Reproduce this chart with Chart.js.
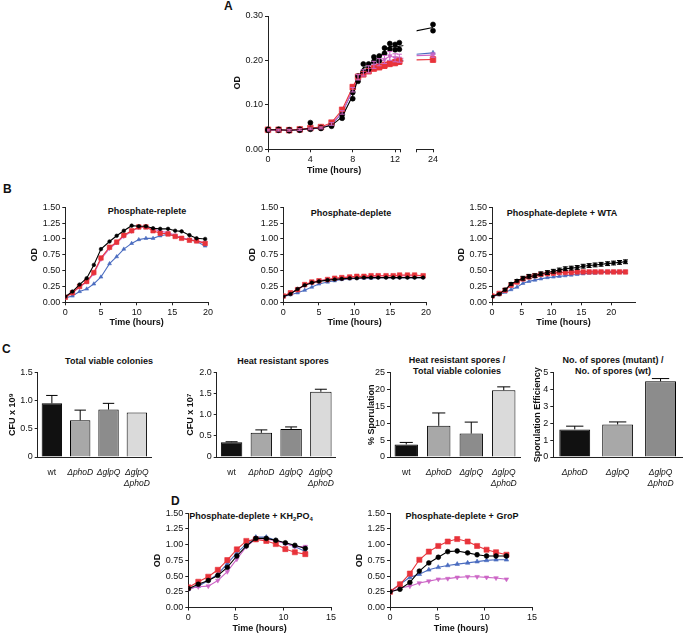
<!DOCTYPE html>
<html><head><meta charset="utf-8">
<script src="https://cdn.jsdelivr.net/npm/chart.js@4.4.0/dist/chart.umd.min.js"></script>
<style>
body{margin:0;background:#fff;width:683px;height:634px;position:relative;overflow:hidden;font-family:"Liberation Sans",Arial,sans-serif;color:#111}
canvas{position:absolute}
.t{position:absolute;font-weight:bold;font-size:9px;white-space:nowrap;transform:translate(-50%,-50%);line-height:11px;text-align:center}
.t sub{font-size:6px;vertical-align:-2px;line-height:0}
.L{position:absolute;font-weight:bold;font-size:12px;line-height:12px}
</style></head><body>
<div class="L" style="left:224px;top:0px">A</div>
<div class="L" style="left:3px;top:183px">B</div>
<div class="L" style="left:2px;top:343px">C</div>
<div class="L" style="left:171px;top:495px">D</div>
<div class="t" style="left:147px;top:211px">Phosphate-replete</div>
<div class="t" style="left:351px;top:213px">Phosphate-deplete</div>
<div class="t" style="left:562px;top:213px">Phosphate-deplete + WTA</div>
<div class="t" style="left:109px;top:361px">Total viable colonies</div>
<div class="t" style="left:283px;top:361px">Heat resistant spores</div>
<div class="t" style="left:457px;top:366px">Heat resistant spores /<br>Total viable colonies</div>
<div class="t" style="left:613px;top:366px">No. of spores (mutant) /<br>No. of spores (wt)</div>
<div class="t" style="left:251px;top:516px">Phosphate-deplete + KH<sub>2</sub>PO<sub>4</sub></div>
<div class="t" style="left:462px;top:516px">Phosphate-deplete + GroP</div>
<script>
// ---------------- DATA ----------------
// Panel A
const timeA = [0,1,2,3,4,5,6,7,8,8.5,9,9.5,10,10.5,11,11.5,12,12.4,24];
const wtA = [0.044,0.044,0.043,0.044,0.047,0.048,0.054,0.073,0.121,0.159,0.184,0.186,0.203,0.204,0.222,0.232,0.230,0.232,0.274];
const wtRepHiA = [0.045,0.045,0.044,0.045,0.060,0.049,0.056,0.078,0.128,0.165,0.192,0.192,0.208,0.210,0.228,0.238,0.236,0.240,0.281];
const wtRepLoA = [0.043,0.043,0.042,0.043,0.045,0.047,0.052,0.070,0.114,0.153,0.176,0.180,0.198,0.199,0.216,0.226,0.224,0.225,0.267];
const phoDA = [0.044,0.044,0.043,0.045,0.048,0.050,0.060,0.089,0.140,0.163,0.169,0.176,0.182,0.185,0.189,0.193,0.195,0.198,0.202];
const phoDErrA = [0.002,0.002,0.002,0.002,0.002,0.002,0.003,0.004,0.005,0.006,0.006,0.006,0.006,0.006,0.007,0.007,0.007,0.007,0.006];
const glpQA = [0.043,0.043,0.043,0.044,0.046,0.048,0.056,0.082,0.132,0.160,0.168,0.176,0.183,0.188,0.192,0.196,0.198,0.200,0.217];
const dblA = [0.043,0.043,0.043,0.044,0.046,0.048,0.057,0.083,0.134,0.162,0.172,0.180,0.190,0.196,0.202,0.210,0.206,0.205,0.212];
const dblErrA = [0.002,0.002,0.002,0.002,0.002,0.002,0.003,0.004,0.005,0.006,0.007,0.008,0.008,0.008,0.009,0.010,0.009,0.009,0.005];
const xTicksA = [0,4,8,12,12.5];
const xTicksA24 = [22,24];
const yTicksA = [0,0.1,0.2,0.3];

// Panel B
const timeB = [0,1,2,3,4,5,6.2,7.2,8.2,9.3,10.3,11.3,12.3,13.3,14.4,15.4,16.3,17.4,18.4,19.6];
const wtB1 = [0.09,0.17,0.28,0.38,0.59,0.84,0.96,1.05,1.13,1.21,1.20,1.20,1.17,1.16,1.16,1.13,1.12,1.06,1.01,1.00];
const phoDB1 = [0.08,0.15,0.25,0.33,0.47,0.70,0.87,0.95,1.06,1.13,1.19,1.19,1.13,1.09,1.08,1.04,1.01,0.98,0.97,0.93];
const dblB1 = [0.08,0.15,0.24,0.32,0.45,0.68,0.85,0.94,1.04,1.12,1.18,1.19,1.16,1.12,1.10,1.06,1.02,0.99,0.97,0.94];
const glpQB1 = [0.07,0.10,0.17,0.21,0.29,0.40,0.61,0.72,0.84,0.93,0.99,1.01,1.01,1.05,1.07,1.05,1.01,0.99,0.96,0.89];
const wtB2 = [0.09,0.13,0.21,0.27,0.31,0.33,0.35,0.36,0.37,0.38,0.38,0.39,0.39,0.39,0.39,0.39,0.39,0.39,0.39,0.39];
const phoDB2 = [0.10,0.15,0.20,0.28,0.32,0.34,0.36,0.38,0.39,0.40,0.41,0.41,0.42,0.42,0.42,0.42,0.43,0.43,0.43,0.42];
const dblB2 = [0.10,0.14,0.20,0.27,0.31,0.34,0.36,0.37,0.39,0.40,0.40,0.41,0.41,0.42,0.42,0.42,0.42,0.42,0.42,0.42];
const glpQB2 = [0.09,0.12,0.15,0.19,0.24,0.29,0.32,0.34,0.36,0.37,0.38,0.38,0.38,0.39,0.39,0.39,0.39,0.39,0.39,0.39];
const timeB3 = [0,1.2,2.2,3.2,4.2,5.2,6.2,7.2,8.2,9.3,10.3,11.3,12.3,13.3,14.3,15.3,16.3,17.3,18.3,19.4,20.4,21.4,22.4];
const wtB3 = [0.09,0.13,0.20,0.29,0.34,0.38,0.41,0.42,0.45,0.47,0.49,0.51,0.53,0.54,0.55,0.57,0.58,0.59,0.60,0.61,0.62,0.63,0.64];
const wtErrB3 = [0.01,0.01,0.02,0.02,0.02,0.03,0.03,0.03,0.03,0.03,0.03,0.03,0.03,0.03,0.03,0.03,0.03,0.03,0.03,0.03,0.03,0.03,0.03];
const phoDB3 = [0.10,0.14,0.19,0.27,0.32,0.37,0.40,0.42,0.44,0.45,0.46,0.47,0.47,0.47,0.48,0.48,0.48,0.48,0.48,0.48,0.48,0.48,0.48];
const dblB3 = [0.10,0.14,0.19,0.27,0.32,0.37,0.40,0.42,0.44,0.45,0.46,0.47,0.47,0.48,0.48,0.48,0.49,0.49,0.49,0.49,0.49,0.49,0.49];
const glpQB3 = [0.09,0.12,0.16,0.20,0.24,0.30,0.33,0.35,0.37,0.39,0.40,0.41,0.42,0.43,0.44,0.45,0.46,0.46,0.47,0.47,0.47,0.47,0.47];
const xTicksB = [0,5,10,15,20];
const yTicksOD = [0,0.25,0.5,0.75,1,1.25,1.5];

// Panel C
const strains4 = ['wt','ΔphoD','ΔglpQ',['ΔglpQ','ΔphoD']];
const strains3 = ['ΔphoD','ΔglpQ',['ΔglpQ','ΔphoD']];
const viable = [0.95,0.65,0.84,0.79];
const viableErr = [0.14,0.18,0.11,0];
const spores = [0.35,0.57,0.66,1.54];
const sporesErr = [0.01,0.07,0.05,0.06];
const sporulation = [3.7,9.2,6.9,19.7];
const sporulationErr = [0.6,3.8,3.4,1.0];
const efficiency = [1.63,1.92,4.47];
const efficiencyErr = [0.19,0.15,0.16];
const yTicksC1 = [0,0.5,1,1.5];
const yTicksC2 = [0,0.5,1,1.5,2];
const yTicksC3 = [0,5,10,15,20,25];
const yTicksC4 = [0,1,2,3,4,5];

// Panel D
const timeD = [0,1.05,2.1,3.1,4.1,5.1,6.1,7.1,8.2,9.2,10.2,11.2,12.3];
const wtD1 = [0.30,0.37,0.43,0.51,0.64,0.82,0.98,1.10,1.10,1.07,1.03,0.99,0.94];
const phoDD1 = [0.32,0.41,0.49,0.60,0.755,0.925,1.06,1.085,1.06,1.01,0.93,0.88,0.85];
const glpQD1 = [0.29,0.34,0.43,0.53,0.70,0.87,1.01,1.12,1.12,1.07,1.02,0.97,0.89];
const dblD1 = [0.30,0.33,0.34,0.43,0.57,0.77,0.97,1.09,1.09,1.06,1.02,0.97,0.97];
const wtD2 = [0.25,0.29,0.40,0.58,0.71,0.80,0.89,0.90,0.87,0.84,0.82,0.82,0.82];
const phoDD2 = [0.25,0.37,0.54,0.76,0.89,0.98,1.05,1.09,1.05,0.98,0.92,0.88,0.84];
const glpQD2 = [0.25,0.37,0.48,0.53,0.60,0.64,0.67,0.69,0.71,0.73,0.75,0.76,0.76];
const dblD2 = [0.24,0.31,0.34,0.39,0.42,0.45,0.46,0.48,0.49,0.49,0.48,0.47,0.45];
const xTicksD = [0,5,10,15];

// ---------------- STYLE ----------------
const FONT = '"Liberation Sans", Arial, sans-serif';
Chart.defaults.font.family = FONT;
Chart.defaults.font.size = 9;
Chart.defaults.color = '#111';
Chart.defaults.animation = false;
Chart.defaults.plugins.legend.display = false;
Chart.defaults.plugins.tooltip.enabled = false;
const AX = '#222';
const S_WT = {color:'#000000', shape:'circle', r:2.2};
const S_PHOD = {color:'#e8333a', shape:'rect', r:3.6};
const S_GLPQ = {color:'#4a6cc0', shape:'triangle', r:2.6};
const S_DBL = {color:'#cc66c6', shape:'triangle', r:2.6, rot:180};

const errorBarPlugin = {
  id: 'errorBarPlugin',
  afterDatasetsDraw(chart) {
    const ctx = chart.ctx, ca = chart.chartArea;
    ctx.save();
    ctx.beginPath(); ctx.rect(ca.left - 1, 0, ca.right - ca.left + 4, chart.height); ctx.clip();
    chart.data.datasets.forEach((ds, i) => {
      if (!ds.errors) return;
      const meta = chart.getDatasetMeta(i);
      const ys = chart.scales[meta.yAxisID];
      const isBar = meta.type === 'bar';
      ctx.strokeStyle = isBar ? '#000' : ds.borderColor;
      ctx.lineWidth = 1;
      meta.data.forEach((el, j) => {
        const e = ds.errors[j];
        if (!e) return;
        const raw = ds.data[j];
        const v = typeof raw === 'object' ? raw.y : raw;
        const x = el.x;
        const top = ys.getPixelForValue(v + e);
        const bot = isBar ? el.y : ys.getPixelForValue(v - e);
        const cap = isBar ? el.width * 0.28 : 2.5;
        ctx.beginPath();
        ctx.moveTo(x, bot); ctx.lineTo(x, top);
        ctx.moveTo(x - cap, top); ctx.lineTo(x + cap, top);
        if (!isBar) { ctx.moveTo(x - cap, bot); ctx.lineTo(x + cap, bot); }
        ctx.stroke();
      });
    });
    ctx.restore();
  }
};
Chart.register(errorBarPlugin);

function place(box, config) {
  const c = document.createElement('canvas');
  const left = Math.round(box.L - box.yw);
  const top = Math.round(box.T - box.pt);
  const w = Math.round(box.R + box.pr - left);
  const h = Math.round(box.B + box.xh - top);
  c.width = w; c.height = h;
  c.style.left = left + 'px'; c.style.top = top + 'px';
  c.style.width = w + 'px'; c.style.height = h + 'px';
  document.body.appendChild(c);
  config.options = config.options || {};
  config.options.responsive = false;
  config.options.maintainAspectRatio = false;
  config.options.layout = {padding: {left: box.L - box.yw - left, top: box.T - top, right: box.pr, bottom: 0}};
  const sc = config.options.scales;
  sc.x.afterFit = s => { s.height = box.xh; };
  if (sc.y.display !== false) sc.y.afterFit = s => { s.width = box.yw; };
  return new Chart(c, config);
}

function ds(label, xs, ys, st, errs, extra) {
  return Object.assign({
    label, data: xs.map((x, i) => ({x, y: ys[i]})),
    borderColor: st.color, backgroundColor: st.color,
    pointStyle: st.shape, pointRadius: st.r, pointRotation: st.rot || 0,
    pointBorderWidth: 0.6, borderWidth: 1.1, tension: 0, errors: errs
  }, extra || {});
}

function axisX(ticks, title, min, max, showLabel) {
  return {
    type: 'linear', min, max,
    afterBuildTicks: s => { s.ticks = ticks.map(v => ({value: v})); },
    grid: {display: true, drawOnChartArea: false, drawTicks: true, tickLength: 3, color: AX, tickColor: AX, lineWidth: 1},
    border: {display: true, color: AX, width: 1},
    ticks: {padding: 2, maxRotation: 0, autoSkip: false, color: '#111', font: {size: 9},
      callback: v => (showLabel ? showLabel(v) : String(v))},
    title: {display: !!title, text: title, font: {size: 9, weight: 'bold'}, padding: 0, color: '#111'}
  };
}
function axisY(ticks, title, max, fmt) {
  return {
    type: 'linear', min: 0, max,
    afterBuildTicks: s => { s.ticks = ticks.map(v => ({value: v})); },
    grid: {display: true, drawOnChartArea: false, drawTicks: true, tickLength: 3, color: AX, tickColor: AX, lineWidth: 1},
    border: {display: true, color: AX, width: 1},
    ticks: {padding: 2, autoSkip: false, color: '#111', font: {size: 9}, callback: fmt},
    title: {display: true, text: title, font: {size: 9, weight: 'bold'}, padding: 0, color: '#111'}
  };
}
const f2 = v => v.toFixed(2);

// ---------------- PANEL A ----------------
function aSets(clip) {
  const c = {clip};
  return [
    ds('wt', timeA, wtA, S_WT, null, Object.assign({pointRadius: 0}, c)),
    ds('wt rep', timeA, wtRepHiA, S_WT, null, Object.assign({showLine: false, pointRadius: 2.5}, c)),
    ds('wt rep', timeA, wtRepLoA, S_WT, null, Object.assign({showLine: false, pointRadius: 2.5}, c)),
    ds('ΔphoD', timeA, phoDA, S_PHOD, phoDErrA, Object.assign({pointRadius: 4}, c)),
    ds('ΔglpQΔphoD', timeA, dblA, S_DBL, dblErrA, c),
    ds('ΔglpQ', timeA, glpQA, S_GLPQ, null, c)
  ];
}
place({L: 268, T: 16, R: 401, B: 149, yw: 36, xh: 26.7, pt: 8, pr: 4}, {
  type: 'line', data: {datasets: aSets({left: false, top: false, right: 3, bottom: false})},
  options: {scales: {
    x: axisX(xTicksA, 'Time (hours)', 0, 12.5, v => (v === 12.5 ? '' : String(v))),
    y: axisY(yTicksA, 'OD', 0.3, f2)
  }}
});
place({L: 412, T: 16, R: 433, B: 149, yw: 0, xh: 26.7, pt: 8, pr: 8}, {
  type: 'line', data: {datasets: aSets({left: 0, top: false, right: false, bottom: false})},
  options: {scales: {
    x: axisX(xTicksA24, '', 22, 24, v => (v === 24 ? '24' : '')),
    y: Object.assign(axisY(yTicksA, 'OD', 0.3, f2), {display: false})
  }}
});

// ---------------- PANEL B ----------------
function bChart(L, R, xmax, t, wt, phoD, dbl, glpQ, wtErr) {
  place({L, T: 207.3, R, B: 302.7, yw: 36, xh: 25.7, pt: 8, pr: 8}, {
    type: 'line',
    data: {datasets: [
      ds('wt', t, wt, S_WT, wtErr, {pointRadius: 1.8}),
      ds('ΔphoD', t, phoD, S_PHOD, null, {pointRadius: 3.2}),
      ds('ΔglpQΔphoD', t, dbl, S_DBL, null, {pointRadius: 2.2}),
      ds('ΔglpQ', t, glpQ, S_GLPQ, null, {pointRadius: 2.2})
    ]},
    options: {scales: {x: axisX(xTicksB, 'Time (hours)', 0, xmax), y: axisY(yTicksOD, 'OD', 1.5, f2)}}
  });
}
bChart(65.3, 208.3, 20, timeB, wtB1, phoDB1, dblB1, glpQB1, null);
bChart(283.3, 426, 20, timeB, wtB2, phoDB2, dblB2, glpQB2, null);
bChart(492, 635, 24, timeB3, wtB3, phoDB3, dblB3, glpQB3, wtErrB3);

// ---------------- PANEL C ----------------
const GRAYS4 = ['#111111', '#a8a8a8', '#8c8c8c', '#dadada'];
const GRAYS3 = ['#111111', '#a8a8a8', '#8c8c8c'];
function cChart(L, R, yw, cats, vals, errs, colors, yticks, ymax, ytitle, fmt) {
  place({L, T: 372.3, R, B: 457.3, yw, xh: 40, pt: 8, pr: 1}, {
    type: 'bar',
    data: {labels: cats, datasets: [{data: vals, errors: errs, backgroundColor: colors,
      borderColor: '#000', borderWidth: 1, barPercentage: 0.72, categoryPercentage: 1}]},
    options: {scales: {
      x: {grid: {display: false}, border: {display: true, color: AX, width: 1},
        ticks: {padding: 3, color: '#111', autoSkip: false, maxRotation: 0,
          font: ctx => ({size: 8.5, style: (cats[ctx.index] === 'wt') ? 'normal' : 'italic'})}},
      y: axisY(yticks, ytitle, ymax, fmt)
    }}
  });
}
const fC = v => (v === 0 ? '0' : v.toFixed(1));
const fI = v => String(v);
cChart(37.7, 152, 31, strains4, viable, viableErr, GRAYS4, yTicksC1, 1.5, 'CFU x 10⁹', fC);
cChart(216.7, 336, 31.4, strains4, spores, sporesErr, GRAYS4, yTicksC2, 2.0, 'CFU x 10⁷', fC);
cChart(390, 520, 23.7, strains4, sporulation, sporulationErr, GRAYS4, yTicksC3, 25, '% Sporulation', fI);
cChart(553.3, 682, 20.7, strains3, efficiency, efficiencyErr, GRAYS3, yTicksC4, 5, 'Sporulation Efficiency', fI);

// ---------------- PANEL D ----------------
function dChart(L, wt, phoD, dbl, glpQ) {
  place({L, T: 513.3, R: L + 142.4, B: 607.5, yw: 36, xh: 26.5, pt: 8, pr: 8}, {
    type: 'line',
    data: {datasets: [
      ds('wt', timeD, wt, S_WT, null, {pointRadius: 2.4}),
      ds('ΔphoD', timeD, phoD, S_PHOD, null, {pointRadius: 3.6}),
      ds('ΔglpQΔphoD', timeD, dbl, S_DBL, null),
      ds('ΔglpQ', timeD, glpQ, S_GLPQ, null)
    ]},
    options: {scales: {x: axisX(xTicksD, 'Time (hours)', 0, 15), y: axisY(yTicksOD, 'OD', 1.5, f2)}}
  });
}
dChart(188.3, wtD1, phoDD1, dblD1, glpQD1);
dChart(390, wtD2, phoDD2, dblD2, glpQD2);
</script>
</body></html>
